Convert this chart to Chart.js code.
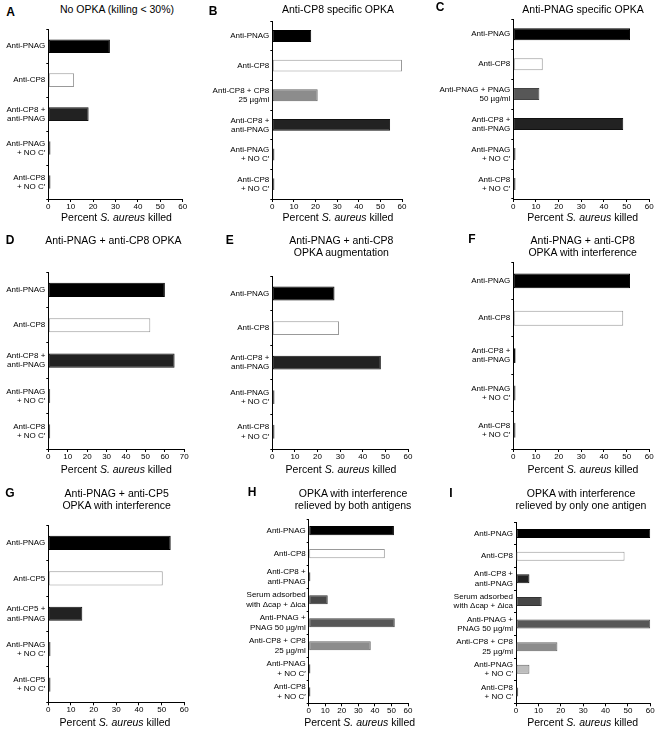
<!DOCTYPE html>
<html>
<head>
<meta charset="utf-8">
<script src="https://cdn.jsdelivr.net/npm/chart.js@4.4.1/dist/chart.umd.min.js"></script>
<style>
    body { margin: 0; width: 656px; height: 731px; overflow: hidden; background: #fff; position: relative;
           font-family: "Liberation Sans", Arial, sans-serif; color: #000; }
    canvas { position: absolute; }
    .t { position: absolute; transform: translate(-50%, -50%); white-space: nowrap; text-align: center; }
    .ttl, .ax { font-size: 10.5px; line-height: 12px; }
    .lt { font-size: 12px; font-weight: bold; line-height: 12px; }
</style>
</head>
<body>
<script>
// --- datos de cada panel ---
const labelsA = ['Anti-PNAG', 'Anti-CP8', ['Anti-CP8 +', 'anti-PNAG'], ['Anti-PNAG', '+ NO C′'], ['Anti-CP8', '+ NO C′']];
const killedA = [27.5, 11.5, 18, 1, 1];
const kindsA = ['pnag', 'cp8', 'combo', 'noC', 'noC'];

const labelsB = ['Anti-PNAG', 'Anti-CP8', ['Anti-CP8 + CP8', '25 µg/ml'], ['Anti-CP8 +', 'anti-PNAG'], ['Anti-PNAG', '+ NO C′'], ['Anti-CP8', '+ NO C′']];
const killedB = [18, 60, 21, 54.5, 1, 1];
const kindsB = ['pnag', 'cp8', 'cp825', 'combo', 'noC', 'noC'];

const labelsC = ['Anti-PNAG', 'Anti-CP8', ['Anti-PNAG + PNAG', '50 µg/ml'], ['Anti-CP8 +', 'anti-PNAG'], ['Anti-PNAG', '+ NO C′'], ['Anti-CP8', '+ NO C′']];
const killedC = [51.5, 13, 11.5, 48.5, 1, 1];
const kindsC = ['pnag', 'cp8', 'pnag50', 'combo', 'noC', 'noC'];

const labelsD = labelsA;
const killedD = [60, 52.5, 65, 1, 1];

const labelsE = labelsA;
const killedE = [27.5, 29.5, 48, 1, 1];

const labelsF = labelsA;
const killedF = [51.5, 48.5, 1, 1, 1];

const labelsG = ['Anti-PNAG', 'Anti-CP5', ['Anti-CP5 +', 'anti-PNAG'], ['Anti-PNAG', '+ NO C′'], ['Anti-CP5', '+ NO C′']];
const killedG = [54, 50.5, 15, 1, 1];

const labelsH = ['Anti-PNAG', 'Anti-CP8', ['Anti-CP8 +', 'anti-PNAG'], ['Serum adsorbed', 'with Δcap + Δica'],
    ['Anti-PNAG +', 'PNAG 50 µg/ml'], ['Anti-CP8 + CP8', '25 µg/ml'], ['Anti-PNAG', '+ NO C′'], ['Anti-CP8', '+ NO C′']];
const killedH = [51.5, 46, 1, 11.5, 52, 37.5, 1, 1];
const kindsH = ['pnag', 'cp8', 'combo', 'serum', 'pnag50', 'cp825', 'noCdark', 'noCdark'];

const labelsI = labelsH;
const killedI = [60, 48.5, 6, 11.5, 60, 18.5, 6, 1];
const kindsI = ['pnag', 'cp8', 'combo', 'serum', 'pnag50', 'cp825', 'noC', 'noC'];

const ticksX60 = [0, 10, 20, 30, 40, 50, 60];
const ticksX70 = [0, 10, 20, 30, 40, 50, 60, 70];

// --- estilos ---
const RELLENO = { pnag: '#000', cp8: '#fff', combo: '#222', serum: '#474747', pnag50: '#575757', cp825: '#8c8c8c', noC: '#bdbdbd', noCdark: '#222' };
const BORDE = { pnag: '#000', cp8: '#999', combo: '#111', serum: '#333', pnag50: '#444', cp825: '#666', noC: '#666', noCdark: '#111' };

Chart.defaults.font.family = '"Liberation Sans", Arial, sans-serif';
Chart.defaults.color = '#000';

const panels = [
    { letra: 'A', lx: 10.5, ly: 11.5, titulo: 'No OPKA (killing &lt; 30%)', tx: 117, ty: 9, ax: 116.5, ay: 217,
      labels: labelsA, values: killedA, kinds: kindsA, xt: ticksX60, g: { cl: 0, L: 48.3, R: 182.7, T: 23, B: 199 } },
    { letra: 'B', lx: 213, ly: 10.5, titulo: 'Anti-CP8 specific OPKA', tx: 338, ty: 9, ax: 338, ay: 217,
      labels: labelsB, values: killedB, kinds: kindsB, xt: ticksX60, g: { cl: 200, L: 272.3, R: 402, T: 15, B: 199 } },
    { letra: 'C', lx: 440, ly: 7, titulo: 'Anti-PNAG specific OPKA', tx: 583, ty: 9, ax: 582.7, ay: 217,
      labels: labelsC, values: killedC, kinds: kindsC, xt: ticksX60, g: { cl: 414, L: 513.3, R: 649.3, T: 13, B: 199 } },
    { letra: 'D', lx: 10, ly: 239.7, titulo: 'Anti-PNAG + anti-CP8 OPKA', tx: 113.3, ty: 240, ax: 116.3, ay: 468.5,
      labels: labelsD, values: killedD, kinds: kindsA, xt: ticksX70, g: { cl: 0, L: 48.3, R: 184.3, T: 266.7, B: 449 } },
    { letra: 'E', lx: 229.7, ly: 239.5, titulo: 'Anti-PNAG + anti-CP8<br>OPKA augmentation', tx: 341.3, ty: 246.3, ax: 341, ay: 468.5,
      labels: labelsE, values: killedE, kinds: kindsA, xt: ticksX60, g: { cl: 200, L: 272.3, R: 408, T: 270, B: 449 } },
    { letra: 'F', lx: 471.8, ly: 238.8, titulo: 'Anti-PNAG + anti-CP8<br>OPKA with interference', tx: 582.7, ty: 246.3, ax: 583, ay: 468.5,
      labels: labelsF, values: killedF, kinds: kindsA, xt: ticksX60, g: { cl: 414, L: 513.3, R: 649.3, T: 256.7, B: 449 } },
    { letra: 'G', lx: 10, ly: 492.5, titulo: 'Anti-PNAG + anti-CP5<br>OPKA with interference', tx: 116.7, ty: 499.2, ax: 115, ay: 721.7,
      labels: labelsG, values: killedG, kinds: kindsA, xt: ticksX60, g: { cl: 0, L: 48.3, R: 184.3, T: 519.3, B: 702.3 } },
    { letra: 'H', lx: 252, ly: 492.3, titulo: 'OPKA with interference<br>relieved by both antigens', tx: 353, ty: 499.2, ax: 359.7, ay: 721.7,
      labels: labelsH, values: killedH, kinds: kindsH, xt: ticksX60, g: { cl: 214, L: 308.7, R: 408, T: 513.3, B: 703.3 } },
    { letra: 'I', lx: 451, ly: 492.5, titulo: 'OPKA with interference<br>relieved by only one antigen', tx: 581, ty: 499.2, ax: 582.7, ay: 721.7,
      labels: labelsI, values: killedI, kinds: kindsI, xt: ticksX60, g: { cl: 420, L: 516, R: 650.3, T: 516.7, B: 703.3 } }
];

const texto = (cls, x, y, html) => {
    const d = document.createElement('div');
    d.className = 't ' + cls;
    d.style.left = x + 'px';
    d.style.top = y + 'px';
    d.innerHTML = html;
    document.body.appendChild(d);
};

const dibujarPanel = (p) => {
    const g = p.g;
    const left = g.cl;
    const top = Math.floor(g.T) - 4;
    const w = Math.ceil(g.R) + 7 - left;
    const h = Math.ceil(g.B) + 15 - top;
    const maxX = p.xt[p.xt.length - 1];

    const cv = document.createElement('canvas');
    cv.width = w;
    cv.height = h;
    cv.style.left = left + 'px';
    cv.style.top = top + 'px';
    cv.style.width = w + 'px';
    cv.style.height = h + 'px';
    document.body.appendChild(cv);

    new Chart(cv, {
        type: 'bar',
        data: {
            labels: p.labels,
            datasets: [{
                data: p.values,
                backgroundColor: p.kinds.map(k => RELLENO[k]),
                borderColor: p.kinds.map(k => BORDE[k]),
                borderWidth: 1,
                borderSkipped: false,
                barPercentage: 0.4,
                categoryPercentage: 1
            }]
        },
        options: {
            indexAxis: 'y',
            responsive: false,
            animation: false,
            layout: { padding: { left: 0, top: g.T - top, right: left + w - g.R, bottom: 0 } },
            plugins: { legend: { display: false }, tooltip: { enabled: false } },
            scales: {
                x: {
                    min: 0, max: maxX,
                    afterBuildTicks: s => { s.ticks = p.xt.map(v => ({ value: v })); },
                    ticks: { font: { size: 8 }, color: '#000', padding: 0, maxRotation: 0, autoSkip: false },
                    grid: { drawOnChartArea: false, tickLength: 3, color: '#000' },
                    border: { color: '#000', width: 1 },
                    afterFit: s => { s.height = top + h - g.B; }
                },
                y: {
                    ticks: { font: { size: 8, lineHeight: 1.15 }, color: '#000', padding: 1, autoSkip: false },
                    grid: { drawOnChartArea: false, tickLength: 2, color: '#000', offset: true },
                    border: { color: '#000', width: 1 },
                    afterFit: s => { s.width = g.L - left; }
                }
            }
        }
    });

    texto('lt', p.lx, p.ly, p.letra);
    texto('ttl', p.tx, p.ty, p.titulo);
    texto('ax', p.ax, p.ay, 'Percent <i>S. aureus</i> killed');
};

panels.forEach(dibujarPanel);
</script>
</body>
</html>
